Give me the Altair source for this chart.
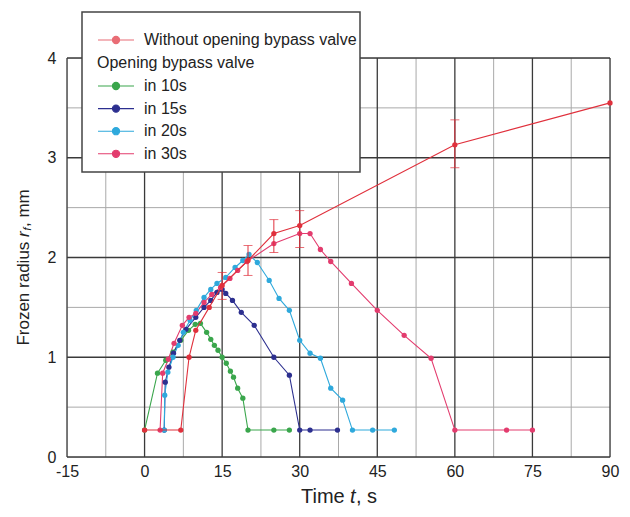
import altair as alt
import pandas as pd

# ---------------- data ----------------
WO_NAME = "Without opening bypass valve"
wo_t = [0, 7, 8.6, 9.9, 12.5, 15, 20, 25, 30, 60, 90]
wo_r = [0.27, 0.27, 1.0, 1.27, 1.5, 1.72, 1.97, 2.24, 2.32, 3.13, 3.55]

err_t = [15, 20, 25, 30, 60]
err_lo = [1.58, 1.82, 2.05, 2.1, 2.9]
err_hi = [1.85, 2.12, 2.38, 2.47, 3.38]

s10_t = [0, 2.5, 4.1, 5.5, 7, 8.5, 9.8, 10.8, 12, 12.8, 13.5, 14.2, 15, 15.8, 16.6, 17.2, 18, 19, 20, 25, 28]
s10_r = [0.27, 0.84, 0.97, 1.05, 1.17, 1.27, 1.33, 1.34, 1.25, 1.18, 1.12, 1.07, 1.0, 0.94, 0.86, 0.8, 0.69, 0.59, 0.27, 0.27, 0.27]

s15_t = [3.8, 4.0, 4.7, 5.6, 6.8, 8, 9.9, 11.5, 12.8, 14, 15, 15.7, 17, 18.7, 21.2, 25, 28, 30, 32, 37.3]
s15_r = [0.27, 0.75, 0.9, 1.04, 1.17, 1.28, 1.4, 1.5, 1.57, 1.65, 1.68, 1.64, 1.57, 1.45, 1.32, 1.0, 0.82, 0.27, 0.27, 0.27]

s20_t = [3.8, 3.9, 4.5, 5.5, 6.5, 7.5, 8.8, 10, 11.5, 12.8, 14, 15.7, 17.5, 19, 20.2, 21.8, 24.1, 26, 28, 30, 32, 34, 36, 38.3, 40.2, 44.1, 48.3]
s20_r = [0.27, 0.62, 0.85, 1.0, 1.12, 1.25, 1.37, 1.47, 1.6, 1.68, 1.74, 1.8, 1.9, 1.97, 2.03, 1.95, 1.77, 1.59, 1.47, 1.17, 1.04, 0.99, 0.69, 0.57, 0.27, 0.27, 0.27]

s30_t = [3, 3.5, 4.6, 5.7, 7.3, 8.6, 9.9, 11.5, 13, 14.7, 16.5, 18, 19.8, 25, 30, 32, 34, 36, 40, 45, 50.2, 55.4, 60, 70, 75]
s30_r = [0.27, 0.84, 0.98, 1.14, 1.32, 1.4, 1.44, 1.55, 1.63, 1.7, 1.79, 1.87, 1.96, 2.14, 2.24, 2.24, 2.08, 1.96, 1.74, 1.47, 1.22, 0.99, 0.27, 0.27, 0.27]

open_names = ["in 10s", "in 15s", "in 20s", "in 30s"]
open_t = [s10_t, s15_t, s20_t, s30_t]
open_r = [s10_r, s15_r, s20_r, s30_r]

RED = "#e0303c"
open_colors = ["#3aa64c", "#2c2f8f", "#2fa9dc", "#e33c6e"]

x_major = [-15, 0, 15, 30, 45, 60, 75, 90]
x_minor = [-7.5, 7.5, 22.5, 37.5, 52.5, 67.5, 82.5]
y_major = [0, 1, 2, 3, 4]
y_minor = [0.5, 1.5, 2.5, 3.5]

# ---------------- tables ----------------
df_wo = pd.DataFrame({"t": wo_t, "r": wo_r, "series": WO_NAME})
df_wo["idx"] = range(len(df_wo))
df_err = pd.DataFrame({"t": err_t, "lo": err_lo, "hi": err_hi, "series": WO_NAME})

frames = []
for name, ts, rs in zip(open_names, open_t, open_r):
    d = pd.DataFrame({"t": ts, "r": rs, "series": name})
    d["idx"] = range(len(d))
    frames.append(d)
df_open = pd.concat(frames, ignore_index=True)

df_xmaj = pd.DataFrame({"t": x_major})
df_xmin = pd.DataFrame({"t": x_minor})
df_ymaj = pd.DataFrame({"r": y_major})
df_ymin = pd.DataFrame({"r": y_minor})

FONT = "Liberation Sans"
TXT = "#222222"

x_axis = alt.Axis(
    values=x_major, labelExpr="'' + datum.value",
    grid=False, ticks=False, domain=False, title=None,
    labelFontSize=16, labelFont=FONT, labelColor=TXT, labelPadding=6,
    labelFlush=False, labelOverlap=False,
)
y_axis = alt.Axis(
    values=y_major, labelExpr="'' + datum.value",
    grid=False, ticks=False, domain=False, title=None,
    labelFontSize=16, labelFont=FONT, labelColor=TXT, labelPadding=11,
    labelOverlap=False,
)
X = alt.X("t:Q", scale=alt.Scale(domain=[-15, 90], nice=False), axis=x_axis)
Y = alt.Y("r:Q", scale=alt.Scale(domain=[0, 4], nice=False), axis=y_axis)

SYM = "M-1,0L1,0M-0.2,0A0.2,0.2,0,1,0,0.2,0A0.2,0.2,0,1,0,-0.2,0Z"

legA = alt.Legend(
    title=None, orient="none", legendX=30, legendY=-27,
    symbolType=SYM, symbolSize=1296, clipHeight=18, symbolStrokeWidth=1.1,
    labelFontSize=16, labelFont=FONT, labelColor=TXT, labelOffset=9, labelLimit=400,
    rowPadding=4.6, padding=0,
)
legB = alt.Legend(
    title="Opening bypass valve", orient="none", legendX=30, legendY=-3,
    titleFontSize=16, titleFont=FONT, titleColor=TXT, titleFontWeight="normal",
    titlePadding=6, titleAnchor="start", titleLimit=400,
    symbolType=SYM, symbolSize=1296, clipHeight=18, symbolStrokeWidth=1.1,
    labelFontSize=16, labelFont=FONT, labelColor=TXT, labelOffset=9, labelLimit=400,
    rowPadding=4.6, padding=0,
)

colA = alt.Color("series:N", scale=alt.Scale(domain=[WO_NAME], range=[RED]), legend=legA)
colB = alt.Color("series:N", scale=alt.Scale(domain=open_names, range=open_colors), legend=legB)

# grid lines (minor light, major dark)
grid = alt.layer(
    alt.Chart(df_xmin).mark_rule(stroke="#a9a9a9", strokeWidth=1, opacity=1).encode(x=X),
    alt.Chart(df_ymin).mark_rule(stroke="#a9a9a9", strokeWidth=1, opacity=1).encode(y=Y),
    alt.Chart(df_xmaj).mark_rule(stroke="#3a3a3a", strokeWidth=1.3).encode(x=X),
    alt.Chart(df_ymaj).mark_rule(stroke="#3a3a3a", strokeWidth=1.3).encode(y=Y),
)

baseB = alt.Chart(df_open)
layerB = alt.layer(
    baseB.mark_line(strokeWidth=1.1).encode(x=X, y=Y, color=colB, detail="series:N", order="idx:Q"),
    baseB.mark_point(filled=True, size=28, opacity=1).encode(x=X, y=Y, color=colB),
)

baseA = alt.Chart(df_wo)
errA = alt.Chart(df_err)
layerA = alt.layer(
    baseA.mark_line(strokeWidth=1.1).encode(x=X, y=Y, color=colA, order="idx:Q"),
    errA.mark_rule(strokeWidth=1).encode(x=X, y=alt.Y("lo:Q"), y2="hi:Q", color=colA),
    errA.mark_tick(orient="horizontal", size=9, thickness=1).encode(x=X, y=alt.Y("lo:Q"), color=colA),
    errA.mark_tick(orient="horizontal", size=9, thickness=1).encode(x=X, y=alt.Y("hi:Q"), color=colA),
    baseA.mark_point(filled=True, size=28, opacity=1).encode(x=X, y=Y, color=colA),
)

one = pd.DataFrame({"a": [0]})
legend_box = alt.Chart(one).mark_rect(fill="white", stroke="#444444", strokeWidth=1.5).encode(
    x=alt.value(15), x2=alt.value(293), y=alt.value(-46), y2=alt.value(114)
)

def txt(text, x, y, size=17, style="normal", angle=0, align="left", baseline="middle"):
    return alt.Chart(one).mark_text(
        text=text, font=FONT, fontSize=size, fontStyle=style, color=TXT,
        angle=angle, align=align, baseline=baseline,
    ).encode(x=alt.value(x), y=alt.value(y))

# x title: "Time t, s"
xt = [
    txt("Time", 277.7, 439, size=20, align="right"),
    txt("t", 283, 439, size=20, style="italic"),
    txt(", s", 289, 439, size=20),
]
# y title: "Frozen radius r_f, mm" (rotated)
yt = [
    txt("Frozen radius", -43, 287.6, angle=270),
    txt("r", -43, 179.0, style="italic", angle=270),
    txt("f", -39, 172.6, size=11, style="italic", angle=270),
    txt(", mm", -43, 169.0, angle=270),
]

chart = alt.layer(grid, layerB, layerA, legend_box, *xt, *yt).resolve_scale(color="independent").properties(
    width=543, height=399,
    autosize=alt.AutoSizeParams(type="none"),
    padding={"left": 59, "top": 50, "right": 12, "bottom": 52},
).configure_view(stroke="#111111", strokeWidth=2).configure(background="white")

chart.save("out.html", embed_options={"renderer": "svg", "actions": False})
